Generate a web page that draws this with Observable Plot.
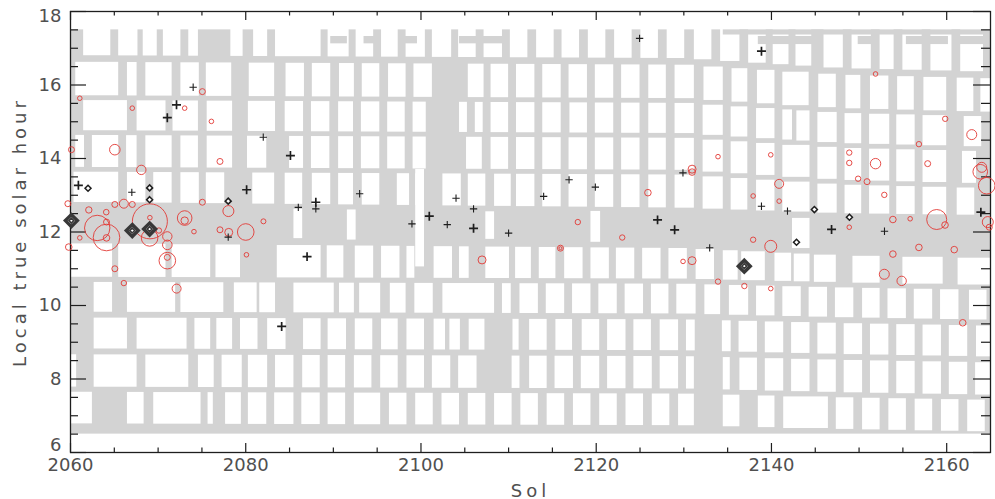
<!DOCTYPE html>
<html><head><meta charset="utf-8">
<script src="https://cdn.jsdelivr.net/npm/d3@7"></script>
<script src="https://cdn.jsdelivr.net/npm/@observablehq/plot@0.6"></script>
<style>html,body{margin:0;padding:0;background:#fff;} #chart{width:995px;height:499px;}</style>
</head><body><div id="chart"></div>
<script>
// ---------- axes ----------
const solDomain = [2060, 2165];
const hourDomain = [6, 18];
const xMajorTicks = [2060, 2080, 2100, 2120, 2140, 2160];
const xMinorTicks = [2065, 2070, 2075, 2085, 2090, 2095, 2105, 2110, 2115, 2125, 2130, 2135, 2145, 2150, 2155];
const yMajorTicks = [6, 8, 10, 12, 14, 16, 18];
const yInnerLabels = [8, 10, 12, 14, 16];
const yMinorTicks = [6.5, 7, 7.5, 8.5, 9, 9.5, 10.5, 11, 11.5, 12.5, 13, 13.5, 14.5, 15, 15.5, 16.5, 17, 17.5];
const xTitle = "Sol";
const yTitle = "Local true solar hour";

// ---------- coverage (gray) ----------
const coverageSols = [2060, 2165];
const coverageHours = [6.5, 17.5];
// sols at which the row edges were read (rows drift slowly in local true solar time)
const slantSols = [2060, 2130, 2148, 2165];
const rowTop = [
  [17.6, 17.6, 17.6, 17.6],
  [16.62, 16.54, 16.27, 16.17],
  [15.58, 15.50, 15.23, 15.13],
  [14.63, 14.55, 14.28, 14.18],
  [13.63, 13.55, 13.28, 13.18],
  [11.68, 11.55, 11.35, 11.28],
  [10.63, 10.58, 10.48, 10.41],
  [9.66, 9.61, 9.51, 9.44],
  [8.66, 8.61, 8.51, 8.44],
  [7.64, 7.59, 7.49, 7.42]
];
const rowBottom = [
  [16.80, 16.72, 16.45, 16.35],
  [15.71, 15.63, 15.36, 15.26],
  [14.76, 14.68, 14.41, 14.31],
  [13.76, 13.68, 13.41, 13.31],
  [12.81, 12.65, 12.50, 12.45],
  [10.77, 10.72, 10.62, 10.55],
  [9.82, 9.77, 9.67, 9.60],
  [8.82, 8.77, 8.67, 8.60],
  [7.78, 7.73, 7.63, 7.56],
  [6.78, 6.73, 6.63, 6.56]
];
// uncovered (white) sol intervals of each row
const row1Gaps = [[2061.5,2064.6],[2065.5,2067.7],[2068.3,2069.9],[2070.6,2072.6],[2073.5,2074.6],[2078.3,2079.7],[2080.9,2082.5],[2083.4,2088.6],[2089.4,2091.8],[2092.6,2094.6],[2095.5,2097.4],[2098.3,2100.5],[2101.3,2103.5],[2104.3,2106.3],[2107.2,2109.3],[2110.2,2112.2],[2113.2,2115.2],[2116.1,2118.1],[2119.1,2121.1],[2122.1,2124.1],[2125.1,2127.1],[2128.1,2130.1],[2131.2,2133.2],[2134.2,2136.4],[2137.4,2139.4],[2140.2,2142.0],[2142.8,2144.6],[2146.0,2148.2],[2149.2,2151.4],[2152.4,2154.0],[2155.0,2157.2],[2158.2,2160.6],[2161.6,2164.2]];
const row2Gaps = [[2060.6,2065.5],[2066.5,2067.6],[2068.6,2071.6],[2072.6,2074.7],[2075.5,2078.4],[2080.4,2083.3],[2084.6,2086.7],[2087.6,2089.7],[2090.7,2092.4],[2093.3,2095.3],[2096.3,2098.3],[2099.2,2101.3],[2105.4,2107.2],[2108.0,2110.0],[2110.9,2113.0],[2113.9,2116.0],[2116.9,2119.0],[2119.9,2122.0],[2122.9,2125.0],[2126.0,2128.0],[2129.0,2131.2],[2132.3,2134.5],[2135.5,2137.3],[2138.4,2140.4],[2141.3,2144.3],[2145.4,2147.4],[2148.5,2150.2],[2151.3,2153.4],[2154.4,2156.3],[2157.4,2160.0],[2161.2,2163.1],[2163.9,2165.2]];
const row3Gaps = [[2061.5,2066.5],[2067.6,2070.9],[2071.7,2074.6],[2075.6,2078.5],[2080.3,2083.4],[2084.5,2086.6],[2087.5,2089.6],[2090.6,2092.3],[2093.2,2095.3],[2096.2,2098.2],[2099.1,2100.6],[2104.4,2105.3],[2106.2,2107.1],[2108.0,2110.0],[2110.9,2113.0],[2113.9,2116.0],[2117.0,2119.0],[2119.9,2122.0],[2122.9,2125.0],[2126.0,2128.0],[2129.0,2131.2],[2132.2,2134.5],[2135.4,2137.3],[2138.3,2140.4],[2141.3,2142.4],[2142.9,2144.4],[2145.3,2147.5],[2148.4,2150.3],[2151.2,2153.5],[2154.3,2156.4],[2157.3,2160.0],[2162.0,2164.0]];
const row4Gaps = [[2060.6,2061.6],[2062.5,2065.5],[2066.4,2067.6],[2068.6,2071.6],[2072.6,2074.6],[2075.6,2078.5],[2080.2,2082.4],[2085.0,2086.6],[2087.5,2089.6],[2090.6,2092.3],[2093.2,2095.3],[2096.2,2098.2],[2099.1,2100.6],[2105.2,2107.0],[2108.0,2110.0],[2110.9,2113.0],[2113.9,2116.0],[2116.9,2119.0],[2119.9,2122.0],[2122.9,2125.0],[2126.0,2128.0],[2129.0,2131.2],[2132.2,2134.5],[2135.4,2137.3],[2138.3,2140.4],[2141.3,2144.4],[2145.3,2147.5],[2148.4,2150.3],[2151.2,2153.5],[2154.3,2156.4],[2157.3,2160.0],[2161.8,2163.4]];
const row5Gaps = [[2060.4,2065.5],[2066.5,2068.6],[2069.5,2071.6],[2072.6,2074.7],[2075.5,2077.6],[2080.8,2083.3],[2084.5,2086.5],[2087.6,2089.7],[2090.6,2092.3],[2093.3,2095.3],[2097.3,2098.7],[2099.4,2100.4],[2102.5,2104.6],[2105.4,2107.4],[2108.4,2110.3],[2110.9,2113.0],[2113.9,2116.0],[2116.9,2119.0],[2119.9,2122.0],[2122.9,2125.0],[2126.0,2128.0],[2129.0,2131.2],[2132.2,2134.5],[2135.4,2137.3],[2138.3,2140.4],[2141.3,2144.4],[2145.3,2147.5],[2148.4,2150.3],[2151.2,2153.5],[2154.3,2156.4],[2157.3,2160.0],[2161.2,2163.2]];
const row6Gaps = [[2060.0,2064.8],[2065.5,2070.9],[2071.6,2076.0],[2076.6,2079.4],[2083.6,2088.6],[2089.3,2091.2],[2092.5,2094.6],[2095.5,2097.6],[2098.4,2099.3],[2101.5,2103.6],[2104.4,2105.5],[2107.4,2110.1],[2110.8,2112.6],[2113.5,2115.4],[2116.4,2118.5],[2119.4,2121.5],[2122.3,2124.4],[2125.3,2127.4],[2128.3,2130.4],[2131.4,2133.5],[2134.5,2136.2],[2136.6,2139.3],[2140.4,2142.3],[2142.6,2144.4],[2144.9,2147.4],[2149.3,2152.4],[2155.0,2159.6],[2161.3,2165.2]];
const row7Gaps = [[2062.7,2064.8],[2066.5,2072.0],[2072.6,2077.5],[2078.7,2081.3],[2081.6,2083.4],[2085.5,2090.1],[2090.7,2092.4],[2093.0,2095.4],[2096.5,2098.3],[2099.3,2101.4],[2102.5,2108.4],[2109.3,2110.3],[2111.3,2113.4],[2114.3,2116.4],[2117.3,2119.4],[2120.3,2122.4],[2123.3,2125.4],[2126.3,2128.3],[2129.2,2131.4],[2132.4,2134.2],[2135.2,2137.4],[2138.3,2140.4],[2141.3,2143.4],[2144.3,2146.4],[2147.3,2149.4],[2150.4,2152.4],[2153.3,2155.4],[2156.3,2158.4],[2159.3,2161.4],[2162.6,2164.6]];
const row8Gaps = [[2062.7,2066.5],[2067.6,2073.3],[2074.2,2076.0],[2076.7,2078.5],[2079.4,2081.4],[2082.5,2084.6],[2086.6,2088.6],[2089.4,2091.5],[2092.5,2094.5],[2095.5,2097.4],[2098.4,2100.4],[2101.5,2102.8],[2103.3,2104.5],[2105.5,2107.3],[2110.5,2111.2],[2112.4,2114.4],[2115.4,2117.3],[2118.4,2120.4],[2121.3,2123.4],[2124.3,2126.3],[2127.3,2129.4],[2130.3,2131.3],[2134.4,2135.4],[2136.3,2138.4],[2139.3,2141.4],[2142.3,2144.4],[2145.3,2147.4],[2148.3,2150.4],[2151.3,2153.4],[2154.3,2156.4],[2157.3,2159.4],[2160.3,2162.4],[2163.4,2165.2]];
const row9Gaps = [[2060.0,2060.7],[2062.7,2067.6],[2068.6,2073.5],[2074.6,2076.4],[2077.3,2079.6],[2080.3,2082.5],[2083.4,2085.5],[2086.5,2088.5],[2089.4,2091.4],[2092.4,2094.4],[2095.4,2097.4],[2098.4,2100.4],[2101.3,2103.4],[2104.3,2106.4],[2110.4,2111.3],[2112.4,2114.4],[2115.3,2117.4],[2118.3,2120.4],[2121.3,2123.4],[2124.3,2126.4],[2127.3,2129.4],[2130.3,2131.2],[2134.5,2135.3],[2136.4,2138.4],[2139.3,2141.4],[2142.3,2144.4],[2145.3,2147.4],[2148.3,2150.4],[2151.3,2153.4],[2154.3,2156.4],[2157.3,2159.4],[2160.3,2162.4],[2163.3,2165.2]];
const row10Gaps = [[2060.0,2062.5],[2066.5,2068.4],[2069.5,2074.9],[2075.7,2076.3],[2077.7,2079.5],[2080.3,2082.4],[2083.3,2085.5],[2086.4,2088.5],[2089.4,2091.4],[2092.4,2095.4],[2096.4,2098.4],[2099.4,2101.4],[2102.4,2104.4],[2105.4,2107.4],[2108.4,2110.4],[2111.4,2113.4],[2114.4,2116.4],[2117.4,2119.4],[2120.4,2122.4],[2123.4,2125.4],[2126.4,2128.4],[2129.4,2131.2],[2134.5,2136.4],[2138.5,2140.4],[2141.4,2146.5],[2147.4,2149.4],[2150.4,2152.4],[2153.4,2155.4],[2156.4,2158.4],[2159.4,2161.4],[2162.4,2164.4]];
const rowGaps = [row1Gaps,row2Gaps,row3Gaps,row4Gaps,row5Gaps,row6Gaps,row7Gaps,row8Gaps,row9Gaps,row10Gaps];
// gaps cutting through the noon band: [sol start, sol end, hour low, hour high]
const bandGaps = [[2085.5,2086.5,11.82,12.62],[2091.6,2092.6,11.78,12.6],[2099.4,2100.4,11.05,13.7],[2107.4,2108.4,11.8,12.55],[2119.4,2120.5,11.72,12.56],[2142.4,2144.4,11.55,12.37]];
// extra covered pieces near the top of the day
const topBars = [[2060.6,2061.4,17.12,17.32],[2089.7,2091.6,17.12,17.32],[2093.5,2095.4,17.12,17.32],[2097.5,2099.6,17.12,17.32],[2104.4,2109.5,17.12,17.32],[2138.5,2145.3,17.1,17.32],[2149.9,2151.8,17.1,17.32],[2155.4,2160.2,17.1,17.32],[2161.5,2165,17.1,17.32],[2134.5,2165,17.36,17.5]];

// ---------- detections ----------
// red circles: [sol, hour, radius px]
const circles = [
 [2061.06,15.64,2.3],[2067.05,15.37,2.3],[2075.05,15.82,3],[2073.03,15.37,2.3],[2076.08,15.01,2.3],[2060.11,14.24,3],[2065.06,14.24,5.3],[2068.08,13.69,4.7],[2077.06,13.92,3],[2062.09,12.60,3.2],[2065.06,12.75,3],[2066.09,12.77,4.5],[2067.05,12.75,3],[2064.08,12.54,2.8],[2069.06,12.29,17.5],[2069.06,12.39,2.3],[2073.03,12.38,7.3],[2073.03,12.31,3.7],[2075.05,12.81,3],[2074.09,12.01,2.3],[2077.06,12.06,3],[2078.02,12.57,5.5],[2080.0,12.0,8.3],[2082.02,12.29,2.5],[2063.05,12.11,12.7],[2064.11,11.85,13.3],[2064.11,11.84,3.3],[2064.11,12.27,3],[2061.06,11.84,2.3],[2059.7,12.77,3],[2059.8,11.59,3.3],[2069.03,11.84,8.3],[2070.09,12.04,2.7],[2071.05,11.88,4.7],[2071.05,11.65,4.8],[2071.05,11.22,8.3],[2071.05,11.31,3],[2065.06,11.0,3],[2066.09,10.61,2.7],[2072.11,10.46,4.5],[2080.08,11.38,2.3],[2078.06,11.99,4],[2067.05,12.04,4.7],
 [2125.9,13.07,3.3],[2117.9,12.27,2.7],[2122.97,11.85,2.7],[2115.92,11.56,3],[2115.92,11.56,1.5],[2106.97,11.24,4],
 [2130.94,13.71,4],[2130.94,13.63,3.3],[2133.9,14.05,2.3],[2139.92,14.10,2.3],[2151.88,16.30,2.3],[2159.83,15.08,2.7],[2162.86,14.65,5],[2156.83,14.39,2.7],[2148.88,14.16,2.7],[2148.88,13.88,2.7],[2151.88,13.86,5.2],[2157.83,13.86,3],[2163.83,13.64,7.3],[2164.0,13.76,5],[2164.57,13.26,8.3],[2149.89,13.45,2.7],[2150.91,13.37,3],[2140.88,13.31,4.5],[2137.91,12.98,2.3],[2140.88,12.84,2.3],[2152.88,13.01,2.7],[2148.88,12.13,2.3],[2153.86,12.34,3.3],[2155.83,12.36,2.3],[2158.86,12.34,10],[2159.81,12.19,3.3],[2164.69,12.27,5.5],[2164.86,12.13,3],[2137.91,11.79,2.7],[2139.92,11.61,6],[2156.83,11.58,3.3],[2160.86,11.52,3.3],[2129.91,11.20,2.3],[2130.94,11.22,4],[2133.9,10.65,2.7],[2136.91,10.53,2.7],[2139.92,10.46,2.3],[2152.88,10.85,5],[2154.86,10.67,4.7],[2153.86,11.40,3.3],[2161.83,9.53,3.3]
];
// black plus signs: [sol, hour, bold]
const pluses = [
 [2060.9,13.27,1],[2067.0,13.08,0],[2071.05,15.11,1],[2072.1,15.46,1],[2074.0,15.94,0],[2082.0,14.58,0],[2085.1,14.08,1],[2080.1,13.15,1],[2086.0,12.67,0],[2088.0,12.81,1],[2088.0,12.63,0],[2078.0,11.86,0],[2087.0,11.33,1],[2084.1,9.43,1],[2093.0,13.04,0],[2098.97,12.22,0],[2100.95,12.43,1],[2104.0,12.92,0],[2103.0,12.20,0],[2106.0,12.63,0],[2106.0,12.10,1],[2110.0,11.97,0],[2114.0,12.97,0],[2116.9,13.42,0],[2119.9,13.22,0],[2124.95,17.27,0],[2127.0,12.33,1],[2129.9,13.61,0],[2128.95,12.06,1],[2132.95,11.57,0],[2138.86,16.92,1],[2138.86,12.70,0],[2141.83,12.57,0],[2146.86,12.07,1],[2152.9,12.02,0],[2163.9,12.54,1]
];
// diamonds: [sol, hour]
const smallDiamonds = [[2062.0,13.19],[2069.03,13.20],[2069.03,12.88],[2078.0,12.84],[2144.9,12.61],[2148.9,12.40],[2142.86,11.72]];
const bigDiamonds = [[2060.1,12.31],[2067.05,12.04],[2069.03,12.08],[2136.9,11.07]];

// ---------- build tables ----------
function atSol(vals, s) {
  if (s <= slantSols[0]) return vals[0];
  for (let i = 1; i < slantSols.length; i++) {
    if (s <= slantSols[i]) {
      const t = (s - slantSols[i-1]) / (slantSols[i] - slantSols[i-1]);
      return vals[i-1] + t * (vals[i] - vals[i-1]);
    }
  }
  return vals[vals.length - 1];
}
const coverage = [{x1: coverageSols[0], x2: coverageSols[1], y1: coverageHours[0], y2: coverageHours[1]}];
const whiteCells = rowGaps.flatMap((gaps, i) => gaps.map(([a, b]) => {
  const m = (a + b) / 2;
  return {x1: a, x2: b, y1: atSol(rowBottom[i], m), y2: atSol(rowTop[i], m)};
}));
const bandCells = bandGaps.map(([a, b, lo, hi]) => ({x1: a, x2: b, y1: lo, y2: hi}));
const barCells = topBars.map(([a, b, lo, hi]) => ({x1: a, x2: b, y1: lo, y2: hi}));
const circleData = circles.map(([s, h, r]) => ({s, h, r}));
const plusData = pluses.map(([s, h, b]) => ({s, h, b}));
const smallD = smallDiamonds.map(([s, h]) => ({s, h}));
const bigD = bigDiamonds.map(([s, h]) => ({s, h}));

const W = 995, H = 499, ML = 70, MR = 5, MT = 11, MB = 47;
const PW = W - ML - MR, PH = H - MT - MB;
const gray = "#d3d3d3";
const ink = "#1e1e1e";
const labelColor = "#505050";
const rectOpts = {x1: "x1", x2: "x2", y1: "y1", y2: "y2", clip: true};
const tk = {stroke: ink, strokeWidth: 1.2};

const chart = Plot.plot({
  width: W, height: H,
  marginLeft: ML, marginRight: MR, marginTop: MT, marginBottom: MB,
  x: {domain: solDomain},
  y: {domain: hourDomain},
  r: {type: "identity"},
  style: {fontFamily: "DejaVu Sans, sans-serif", fontSize: "18px", color: labelColor, background: "#fff"},
  marks: [
    Plot.rect(coverage, {...rectOpts, fill: gray}),
    Plot.rect(whiteCells, {...rectOpts, fill: "#fff"}),
    Plot.rect(bandCells, {...rectOpts, fill: "#fff"}),
    Plot.rect(barCells, {...rectOpts, fill: gray}),
    // inward ticks on all four sides
    Plot.tickX(xMajorTicks, {x: d => d, insetTop: PH - 9, ...tk}),
    Plot.tickX(xMinorTicks, {x: d => d, insetTop: PH - 4.5, ...tk}),
    Plot.tickX(xMajorTicks, {x: d => d, insetBottom: PH - 9, ...tk}),
    Plot.tickX(xMinorTicks, {x: d => d, insetBottom: PH - 4.5, ...tk}),
    Plot.tickY(yMajorTicks, {y: d => d, insetRight: PW - 16, ...tk}),
    Plot.tickY(yMinorTicks, {y: d => d, insetRight: PW - 8, ...tk}),
    Plot.tickY(yMajorTicks, {y: d => d, insetLeft: PW - 17, ...tk}),
    Plot.tickY(yMinorTicks, {y: d => d, insetLeft: PW - 9, ...tk}),
    Plot.frame({stroke: ink, strokeWidth: 1.3}),
    Plot.dot(circleData, {x: "s", y: "h", r: "r", stroke: "#e23a36", strokeWidth: 0.9, fill: "none"}),
    Plot.dot(plusData.filter(d => !d.b), {x: "s", y: "h", symbol: "plus", r: 2.5, stroke: ink, strokeWidth: 1.1}),
    Plot.dot(plusData.filter(d => d.b), {x: "s", y: "h", symbol: "plus", r: 3.0, stroke: ink, strokeWidth: 1.7}),
    Plot.dot(smallD, {x: "s", y: "h", symbol: "diamond2", r: 2.7, stroke: ink, strokeWidth: 1.5, fill: "#fff"}),
    Plot.dot(bigD, {x: "s", y: "h", symbol: "diamond2", r: 5.4, stroke: "#383838", strokeWidth: 3.4, fill: "#fff"}),
    Plot.dot(bigD, {x: "s", y: "h", symbol: "diamond2", r: 2.2, stroke: "#383838", strokeWidth: 1.6, fill: "none"}),
    // tick labels and titles
    Plot.axisX({ticks: xMajorTicks, anchor: "bottom", tickSize: 0, tickPadding: 6, tickFormat: d => String(d), label: xTitle, labelAnchor: "center", labelArrow: "none", labelOffset: 44, fill: labelColor}),
    Plot.axisY({ticks: yInnerLabels, anchor: "left", tickSize: 0, tickPadding: 9, tickFormat: d => String(d), label: yTitle, labelAnchor: "center", labelArrow: "none", labelOffset: 57, fill: labelColor}),
    Plot.axisY({ticks: [yMajorTicks[0]], anchor: "left", tickSize: 0, tickPadding: 9, dy: -7, tickFormat: d => String(d), label: null, fill: labelColor}),
    Plot.axisY({ticks: [yMajorTicks[yMajorTicks.length - 1]], anchor: "left", tickSize: 0, tickPadding: 9, dy: 5, tickFormat: d => String(d), label: null, fill: labelColor})
  ]
});
d3.select(chart).selectAll('[aria-label="x-axis label"] text, [aria-label="y-axis label"] text').style("letter-spacing", "4px");
document.getElementById("chart").appendChild(chart);
</script></body></html>
